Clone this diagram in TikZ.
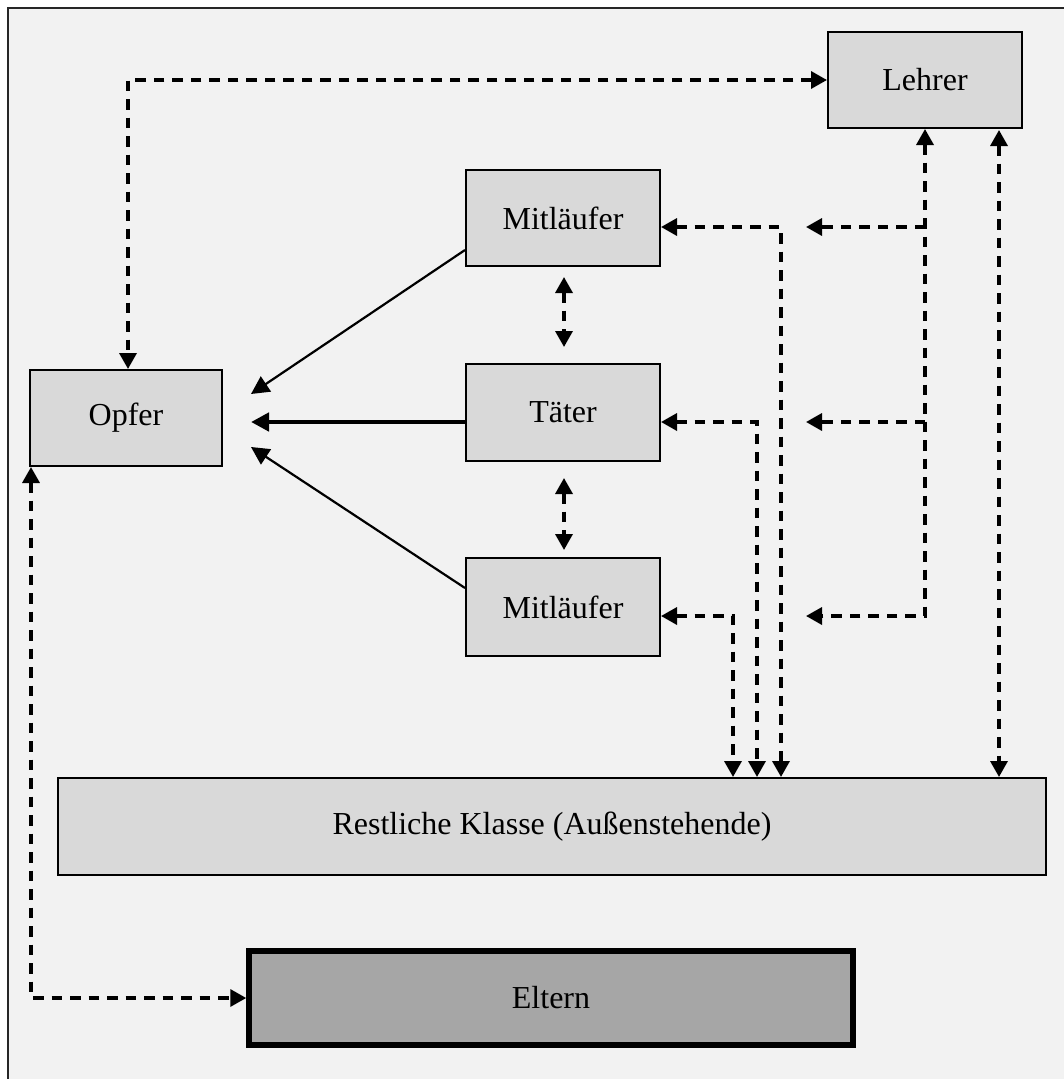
\documentclass[tikz,border=0pt]{standalone}
\usepackage{fontspec}
\setmainfont{Liberation Serif}
\usetikzlibrary{arrows.meta,calc}
\definecolor{bg}{HTML}{F2F2F2}
\definecolor{boxfill}{HTML}{D9D9D9}
\definecolor{darkfill}{HTML}{A6A6A6}
\begin{document}
\begin{tikzpicture}[x=1pt,y=-1pt,
  box/.style={draw=black,line width=2pt,fill=boxfill,rectangle,inner sep=0pt,
    font=\fontsize{32}{38}\selectfont},
  dasharrow/.style={line width=3.4pt,dash pattern=on 10.5pt off 8pt,
    >={Triangle[length=16pt,width=17pt]}},
  solidarrow/.style={line width=2.2pt,->,>={Triangle[length=18pt,width=18pt]}},
  thickarrow/.style={line width=4.8pt,->,>={Triangle[length=18pt,width=18pt]}}]
\useasboundingbox (0,0) rectangle (1064,1079);
\clip (0,0) rectangle (1064,1079);
\fill[white] (0,0) rectangle (1064,1079);
\draw[line width=2pt,draw=black!85,fill=bg] (8,8) rectangle (1090,1100);

% nodes
\node[box,minimum width=194,minimum height=96] (lehrer) at (925,80) {Lehrer};
\node[box,minimum width=194,minimum height=96] (mit1) at (563,218) {Mitläufer};
\node[box,minimum width=194,minimum height=97] (taeter) at (563,412.5) {Täter};
\node[box,minimum width=194,minimum height=98] (mit2) at (563,607) {Mitläufer};
\node[box,minimum width=192,minimum height=96] (opfer) at (126,418) {Opfer};
\node[box,minimum width=988,minimum height=97] (rest) at (552,826.5) {Restliche Klasse (Außenstehende)};
\node[box,line width=5.5pt,fill=darkfill,minimum width=604,minimum height=94] (eltern) at (551,998) {Eltern};

% free ends
\coordinate (t1) at (251,394);
\coordinate (t2) at (251,422);
\coordinate (t3) at (251,447);
\coordinate (v1a) at (564,277);
\coordinate (v1b) at (564,347);
\coordinate (v2a) at (564,478);
\coordinate (v2b) at (564,550);
\coordinate (a1) at (806,227);
\coordinate (a2) at (806,422);
\coordinate (a3) at (806,616);
\coordinate (l2) at (999,130);
\coordinate (c1) at (781,778);
\coordinate (c2) at (757,778);
\coordinate (c3) at (733,778);

% Lehrer <-> Opfer
\draw[dasharrow,<->] (lehrer.west) -| ([xshift=2pt]opfer.north);
% Opfer <-> Eltern
\draw[dasharrow,<->] ([xshift=2pt]opfer.south west) |- (eltern.west);

% to Opfer
\draw[solidarrow] ($(mit1.west)+(0,32)$) -- (t1);
\draw[thickarrow] ($(taeter.west)+(0,9.5)$) -- (t2);
\draw[solidarrow] ($(mit2.west)+(0,-19)$) -- (t3);

% Mitlaeufer <-> Taeter
\draw[dasharrow,<->] (v1a) -- (v1b);
\draw[dasharrow,<->] (v2a) -- (v2b);

% Lehrer branches
\draw[dasharrow,<->] (lehrer.south) -- (lehrer.south |- a3) -- (a3);
\draw[dasharrow,->] (lehrer.south |- a1) -- (a1);
\draw[dasharrow,->] (lehrer.south |- a2) -- (a2);
\draw[dasharrow,<->] (l2) -- (l2 |- rest.north);

% Restliche Klasse connections
\draw[dasharrow,<->] ($(mit1.east)+(0,9)$) -| (c1 |- rest.north);
\draw[dasharrow,<->] ($(taeter.east)+(0,9.5)$) -| (c2 |- rest.north);
\draw[dasharrow,<->] ($(mit2.east)+(0,9)$) -| (c3 |- rest.north);
\end{tikzpicture}
\end{document}
